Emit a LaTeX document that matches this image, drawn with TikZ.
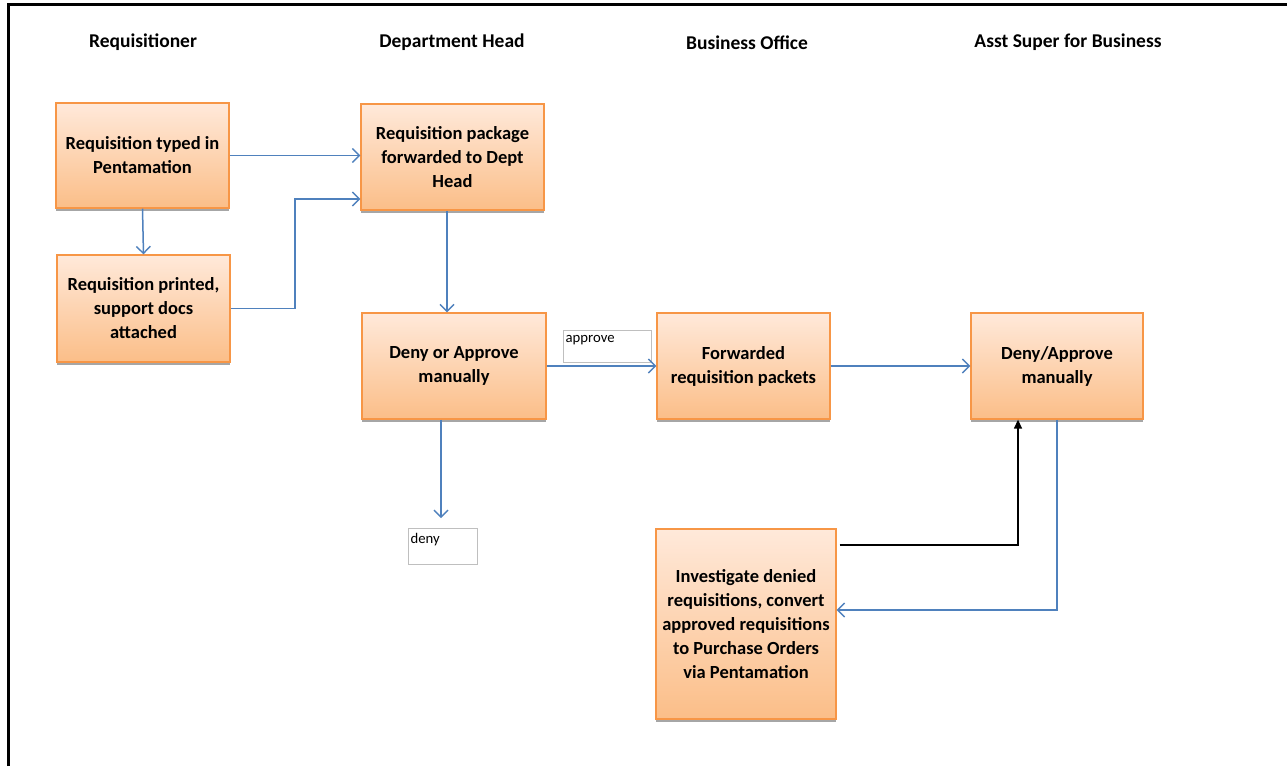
\documentclass[tikz,border=0pt]{standalone}
\usepackage{fontspec}
\setmainfont{Carlito}
\usetikzlibrary{arrows.meta,shadows}
\definecolor{boxborder}{HTML}{F79646}
\definecolor{boxtop}{HTML}{FFE9DA}
\definecolor{boxbot}{HTML}{FBBE88}
\definecolor{linkblue}{HTML}{4F81BD}
\definecolor{lblborder}{HTML}{BFBFBF}
\tikzset{
  x=1pt, y=-1pt,
  procbox/.style={draw=boxborder, line width=1.3pt, top color=boxtop, bottom color=boxbot,
    inner sep=0pt, align=center, font=\fontsize{18.5}{24}\selectfont\bfseries,
    drop shadow={shadow xshift=0pt, shadow yshift=-2.5pt, fill=gray!70, opacity=1}},
  header/.style={font=\fontsize{19.5}{24}\selectfont\bfseries},
  lblbox/.style={draw=lblborder, line width=1pt, fill=white, inner sep=0pt},
  lbltext/.style={font=\fontsize{14.7}{18}\selectfont, anchor=north west, inner sep=0pt},
  flow/.style={draw=linkblue, line width=1.5pt, -{Straight Barb[length=7pt,width=14pt,line width=1.4pt]}},
  blackflow/.style={draw=black, line width=1.4pt, -{Triangle[length=9pt,width=8pt]}}
}
\begin{document}
\begin{tikzpicture}
\useasboundingbox (0,0) rectangle (1287,766);
\fill[white] (0,0) rectangle (1287,766);
% frame (top and left)
\draw[line width=3pt] (8.5,766) -- (8.5,4.7) -- (1287,4.7);

% headers
\node[header] (h1) at (143,42.5) {Requisitioner};
\node[header] (h2) at (452,42.5) {Department Head};
\node[header] (h3) at (747,42.5) {Business Office};
\node[header] (h4) at (1068,42.5) {Asst Super for Business};

% boxes
\node[procbox, minimum width=173pt, minimum height=105pt] (R1) at (142.5,155.5) {Requisition typed in\\Pentamation};
\node[procbox, minimum width=173pt, minimum height=107pt] (R2) at (143.5,308.5) {Requisition printed,\\support docs\\attached};
\node[procbox, minimum width=183pt, minimum height=106pt] (D1) at (452.5,157) {Requisition package\\forwarded to Dept\\Head};
\node[procbox, minimum width=184pt, minimum height=106pt] (D2) at (454,366) {Deny or Approve\\manually};
\node[procbox, minimum width=173pt, minimum height=106pt] (B1) at (743.5,366) {Forwarded\\requisition packets};
\node[procbox, minimum width=172pt, minimum height=106pt] (A1) at (1057,366) {Deny/Approve\\manually};
\node[procbox, minimum width=180pt, minimum height=190pt] (B2) at (746,624) {Investigate denied\\requisitions, convert\\approved requisitions\\to Purchase Orders\\via Pentamation};

% label boxes
\node[lblbox, minimum width=88pt, minimum height=32pt] (ap) at (607,346) {};
\node[lbltext] (apt) at ([xshift=3pt,yshift=-6pt]ap.north west) {approve};
\node[lblbox, minimum width=69pt, minimum height=36pt] (dy) at (442.5,546) {};
\node[lbltext] (dyt) at ([xshift=3pt,yshift=-6pt]dy.north west) {deny};

% connectors
\draw[flow] (R1.east) -- (R1.east -| D1.west);
\draw[flow] (R1.south) -- (R2.north);
\coordinate (j1) at (295,199);
\draw[flow] (R2.east) -| (j1) -- (j1 -| D1.west);
\coordinate (k1) at (447,0);
\draw[flow] (k1 |- D1.south) -- (k1 |- D2.north);
\draw[flow] (D2.east) -- (B1.west);
\coordinate (dn) at (441,518);
\draw[flow] (dn |- D2.south) -- (dn);
\draw[flow] (B1.east) -- (A1.west);
\coordinate (j2) at (1057,610);
\draw[flow] (A1.south) -- (j2) -- (j2 -| B2.east);
\coordinate (j3) at (1018,545);
\draw[blackflow] ([xshift=3pt]B2.east |- j3) -- (j3) -- (j3 |- A1.south);
\end{tikzpicture}
\end{document}
